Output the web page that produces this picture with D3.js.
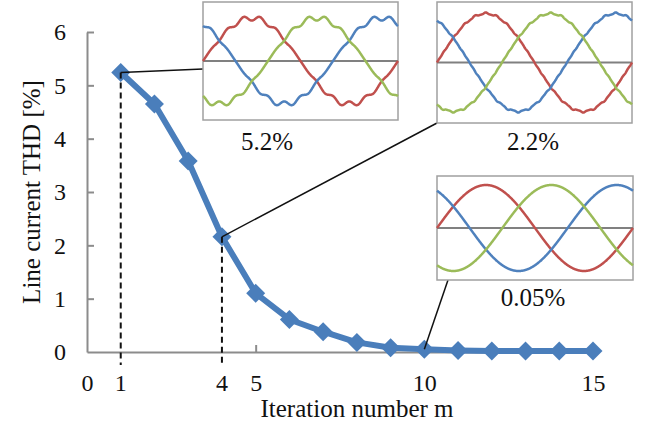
<!DOCTYPE html>
<html>
<head>
<meta charset="utf-8">
<script src="https://cdn.jsdelivr.net/npm/d3@7"></script>
<style>
  body { margin: 0; background: #fff; }
  text { font-family: "Liberation Serif", "Times New Roman", serif; fill: #111; }
</style>
</head>
<body>
<div id="chart"></div>
<script>
// Data.
var iterations = [1, 2, 3, 4, 5, 6, 7, 8, 9, 10, 11, 12, 13, 14, 15];
var thd = [5.24, 4.65, 3.58, 2.16, 1.10, 0.61, 0.38, 0.18, 0.08, 0.05, 0.03, 0.02, 0.02, 0.02, 0.02];
var yTicks = [0, 1, 2, 3, 4, 5, 6];
var xTicks = [0, 5, 10, 15];
var xExtraLabels = [1, 4];
var markedIterations = [1, 4, 10];
var insetLabels = ["5.2%", "2.2%", "0.05%"];
// Harmonic content of the inset phase currents: [order, relative amplitude].
var harmonics1 = [[1, 1], [11, 0.035], [13, -0.025]];
var harmonics2 = [[1, 1], [17, 0.009], [19, -0.008], [37, 0.005]];
var harmonics3 = [[1, 1]];
var phaseColors = ["#c0504d", "#4f81bd", "#9bbb59"];
var phaseShifts = [0, 120, -120];

// Dimensions.
var width = 647, height = 427;

var svg = d3.select("#chart")
    .append("svg")
    .attr("width", width)
    .attr("height", height);

// Scales.
var xScale = d3.scaleLinear().domain([0, 15]).range([87, 593]),
    yScale = d3.scaleLinear().domain([0, 6]).range([352, 32]);

// Axes.
var xAxis = svg.append("g")
    .attr("transform", "translate(0," + yScale(0) + ")")
    .call(d3.axisBottom(xScale).tickValues(xTicks).tickFormat(d3.format("d"))
        .tickSizeInner(-7).tickSizeOuter(0).tickPadding(22));

var yAxis = svg.append("g")
    .attr("transform", "translate(" + xScale(0) + ",0)")
    .call(d3.axisLeft(yScale).tickValues(yTicks).tickFormat(d3.format("d"))
        .tickSizeInner(-7).tickSizeOuter(0).tickPadding(21));

[xAxis, yAxis].forEach(function(ax) {
    ax.select(".domain").attr("stroke", "#8c8c8c").attr("stroke-width", 2);
    ax.selectAll(".tick line").attr("stroke", "#8c8c8c").attr("stroke-width", 2);
    ax.selectAll(".tick text").style("font-size", "24px")
        .style("font-family", "Liberation Serif, Times New Roman, serif").attr("fill", "#111");
});

// Hide the tick marks at 0 (they sit on the other axis).
xAxis.selectAll(".tick").filter(function(d) { return d === 0; }).select("line").remove();
yAxis.selectAll(".tick").filter(function(d) { return d === 0; }).select("line").remove();

// Extra x labels for the marked iterations.
svg.selectAll(".xextra")
    .data(xExtraLabels)
    .enter().append("text")
    .attr("x", function(d) { return xScale(d); })
    .attr("y", yScale(0) + 39)
    .attr("text-anchor", "middle")
    .style("font-size", "24px")
    .text(function(d) { return d; });

// Axis titles.
svg.append("text")
    .attr("transform", "translate(40,192) rotate(-90)")
    .attr("text-anchor", "middle")
    .style("font-size", "25px")
    .text("Line current THD [%]");

svg.append("text")
    .attr("x", 357)
    .attr("y", 417)
    .attr("text-anchor", "middle")
    .style("font-size", "25px")
    .text("Iteration number m");

// Insets: box layout in pixels.
var insets = [
    {x: 203, y: 2, w: 195, h: 118, amp: 43, harm: harmonics1, lx: 267, ly: 150, anchor: [0, 67]},
    {x: 437, y: 2, w: 195, h: 121, amp: 49, harm: harmonics2, lx: 533, ly: 150, anchor: [0, 121]},
    {x: 437, y: 176, w: 196, h: 104, amp: 43, harm: harmonics3, lx: 533, ly: 306, anchor: [11, 104]}
];

// Line generator.
var line = d3.line()
    .x(function(d, i) { return xScale(iterations[i]); })
    .y(function(d) { return yScale(d); });

// Dashed drop lines.
svg.selectAll(".drop")
    .data(markedIterations.slice(0, 2))
    .enter().append("line")
    .attr("x1", function(d) { return xScale(d); })
    .attr("x2", function(d) { return xScale(d); })
    .attr("y1", function(d) { return yScale(thd[d - 1]); })
    .attr("y2", yScale(0) + 13)
    .attr("stroke", "#111")
    .attr("stroke-width", 2)
    .attr("stroke-dasharray", "6,4");

// THD curve.
svg.append("path")
    .datum(thd)
    .attr("fill", "none")
    .attr("stroke", "#4a7ebb")
    .attr("stroke-width", 6)
    .attr("stroke-linejoin", "round")
    .attr("d", line);

svg.selectAll(".marker")
    .data(thd)
    .enter().append("path")
    .attr("transform", function(d, i) { return "translate(" + xScale(iterations[i]) + "," + yScale(d) + ")"; })
    .attr("d", d3.symbol().type(d3.symbolDiamond2).size(230))
    .attr("fill", "#4a7ebb");

// Short dash drawn over the marker, as in the original.
svg.selectAll(".droptop")
    .data(markedIterations.slice(0, 2))
    .enter().append("line")
    .attr("x1", function(d) { return xScale(d); })
    .attr("x2", function(d) { return xScale(d); })
    .attr("y1", function(d) { return yScale(thd[d - 1]); })
    .attr("y2", function(d) { return yScale(thd[d - 1]) + 10; })
    .attr("stroke", "#111")
    .attr("stroke-width", 2)
    .attr("stroke-dasharray", "6,4");

// Leader lines from marked points to insets.
svg.selectAll(".leader")
    .data(markedIterations)
    .enter().append("line")
    .attr("x1", function(d) { return xScale(d); })
    .attr("y1", function(d) { return yScale(thd[d - 1]); })
    .attr("x2", function(d, i) { return insets[i].x + insets[i].anchor[0]; })
    .attr("y2", function(d, i) { return insets[i].y + insets[i].anchor[1]; })
    .attr("stroke", "#111")
    .attr("stroke-width", 1.5);

// Draw each inset.
insets.forEach(function(ins, k) {
    var g = svg.append("g");
    g.append("rect")
        .attr("x", ins.x).attr("y", ins.y)
        .attr("width", ins.w).attr("height", ins.h)
        .attr("fill", "#fff")
        .attr("stroke", "#a0a0a0")
        .attr("stroke-width", 1.5);

    var tx = d3.scaleLinear().domain([0, 360]).range([ins.x, ins.x + ins.w]),
        ty = d3.scaleLinear().domain([-1, 1]).range([ins.y + ins.h / 2 + ins.amp, ins.y + ins.h / 2 - ins.amp]);

    g.append("line")
        .attr("x1", ins.x).attr("x2", ins.x + ins.w)
        .attr("y1", ty(0)).attr("y2", ty(0))
        .attr("stroke", "#808080")
        .attr("stroke-width", 2);

    var angles = d3.range(0, 360.5, 0.5);
    phaseShifts.forEach(function(shift, p) {
        var wave = d3.line()
            .x(function(a) { return tx(a); })
            .y(function(a) {
                var phi = (a + shift) * Math.PI / 180;
                return ty(d3.sum(ins.harm, function(h) { return h[1] * Math.sin(h[0] * phi); }));
            });
        g.append("path")
            .datum(angles)
            .attr("fill", "none")
            .attr("stroke", phaseColors[p])
            .attr("stroke-width", 2.5)
            .attr("d", wave);
    });

    svg.append("text")
        .attr("x", ins.lx)
        .attr("y", ins.ly)
        .attr("text-anchor", "middle")
        .style("font-size", "25px")
        .text(insetLabels[k]);
});
</script>
</body>
</html>
